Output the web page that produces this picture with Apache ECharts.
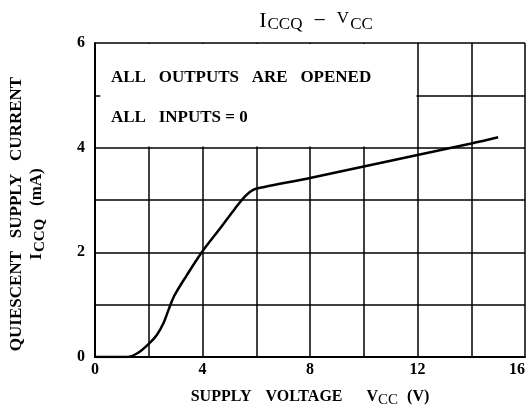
<!DOCTYPE html>
<html>
<head>
<meta charset="utf-8">
<script src="https://cdn.jsdelivr.net/npm/echarts@6/dist/echarts.min.js"></script>
<style>
  html, body { margin: 0; padding: 0; background: #fff; }
  #chart { width: 532px; height: 407px; }
</style>
</head>
<body>
<div id="chart"></div>
<script>
// supply voltage (V) vs quiescent current (mA)
const voltage = [0, 1.2, 1.6, 2.0, 2.3, 2.55, 2.75, 2.95, 3.4, 4.0, 4.6, 5.2, 5.6, 5.9, 6.3, 8, 10, 12, 14, 15];
const current = [0, 0, 0.08, 0.25, 0.42, 0.65, 0.92, 1.17, 1.55, 2.02, 2.42, 2.83, 3.08, 3.2, 3.25, 3.42, 3.64, 3.86, 4.08, 4.2];
const xTicks = [0, 4, 8, 12, 16];
const yTicks = [0, 2, 4, 6];
const noteLines = ['ALL   OUTPUTS   ARE   OPENED', 'ALL   INPUTS = 0'];

const font = '"Liberation Serif"';
const chart = echarts.init(document.getElementById('chart'));

const option = {
  backgroundColor: '#fff',
  animation: false,
  title: {
    text: '{m|I}{s|CCQ}{m|  \u2212  }{v|V}{s|CC}',
    left: 311,
    top: 3,
    textAlign: 'center',
    textStyle: {
      fontWeight: 'normal',
      rich: {
        m: { fontFamily: font, fontSize: 22, fontWeight: 'normal', color: '#000', lineHeight: 26 },
        v: { fontFamily: font, fontSize: 17, fontWeight: 'normal', color: '#000', lineHeight: 26, padding: [0, 0, 4, 0] },
        s: { fontFamily: font, fontSize: 17, fontWeight: 'normal', color: '#000', lineHeight: 26, padding: [8, 0, 0, 1] }
      }
    }
  },
  grid: { left: 95, right: 7, top: 43, bottom: 50, outerBoundsMode: 'none' },
  xAxis: {
    type: 'value',
    min: 0, max: 16, interval: 2,
    axisLine: { lineStyle: { color: '#000', width: 2 } },
    axisTick: { show: false },
    splitLine: { lineStyle: { color: '#000', width: 1.5 } },
    axisLabel: {
      color: '#000', fontFamily: font, fontWeight: 'bold', fontSize: 16, margin: 5,
      alignMaxLabel: 'right',
      formatter: v => xTicks.includes(v) ? String(v) : ''
    },
    name: '{t|SUPPLY}{g|}{t|VOLTAGE}{h|}{t|V}{s|CC}{k|}{t|(V)}',
    nameLocation: 'middle',
    nameGap: 31,
    nameTextStyle: {
      rich: {
        t: { fontFamily: font, fontWeight: 'bold', fontSize: 16, color: '#000', lineHeight: 18 },
        s: { fontFamily: font, fontSize: 15, color: '#000', lineHeight: 18, padding: [7, 0, 0, 0] },
        g: { width: 14 },
        h: { width: 24 },
        k: { width: 9 }
      }
    }
  },
  yAxis: {
    type: 'value',
    min: 0, max: 6, interval: 1,
    axisLine: { lineStyle: { color: '#000', width: 2 } },
    axisTick: { show: false },
    splitLine: { lineStyle: { color: '#000', width: 1.5 } },
    axisLabel: {
      color: '#000', fontFamily: font, fontWeight: 'bold', fontSize: 16, margin: 10,
      formatter: v => yTicks.includes(v) ? String(v) : ''
    },
    name: '{t|QUIESCENT   SUPPLY   CURRENT}{g|}\n{t|I}{s|CCQ}{t|   (mA)}{g|}',
    nameLocation: 'middle',
    nameGap: 48,
    nameRotate: 90,
    nameTextStyle: {
      rich: {
        t: { fontFamily: font, fontWeight: 'bold', fontSize: 17, color: '#000', lineHeight: 20 },
        s: { fontFamily: font, fontWeight: 'bold', fontSize: 15, color: '#000', lineHeight: 20, padding: [6, 0, 0, 1] },
        g: { width: 28 }
      }
    }
  },
  series: [{
    type: 'line',
    data: voltage.map((v, i) => [v, current[i]]),
    smooth: 0.35,
    symbol: 'none',
    lineStyle: { color: '#000', width: 2.5 },
    markArea: {
      silent: true,
      itemStyle: { color: '#fff', borderWidth: 0, opacity: 1 },
      // blank note panel; the grid lines at x=12 and y=4 stay as its frame
      data: [[{ coord: [0.2, 5.98] }, { coord: [11.96, 4.02] }]]
    }
  }],
  graphic: noteLines.map((t, i) => ({
    type: 'text',
    left: 111,
    top: 69 + i * 40,
    z: 100,
    style: { text: t, fill: '#000', font: 'bold 17px ' + font }
  }))
};

chart.setOption(option);
</script>
</body>
</html>
